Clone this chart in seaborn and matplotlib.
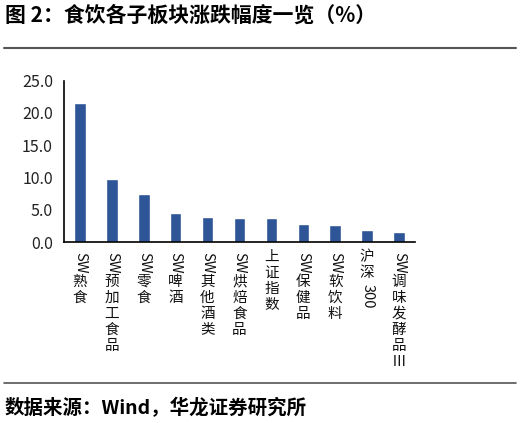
import matplotlib
matplotlib.use("Agg")
import matplotlib.pyplot as plt
import seaborn as sns
import pandas as pd
from matplotlib.transforms import IdentityTransform
from matplotlib.lines import Line2D

# data
categories = ["SW熟食", "SW预加工食品", "SW零食", "SW啤酒", "SW其他酒类", "SW烘焙食品",
              "上证指数", "SW保健品", "SW软饮料", "沪深300", "SW调味发酵品Ⅲ"]
values = [21.6, 9.8, 7.5, 4.55, 3.8, 3.72, 3.72, 2.8, 2.62, 1.92, 1.5]
yticks = [0, 5, 10, 15, 20, 25]

title = "图 2：食饮各子板块涨跌幅度一览（%）"
source = "数据来源：Wind，华龙证券研究所"

sns.set_style("white")
plt.rcParams['font.family'] = ['Noto Sans CJK SC', 'DejaVu Sans']

W, H = 520, 423
fig = plt.figure(figsize=(W / 100, H / 100), dpi=100)
ax = fig.add_axes([64 / W, 1 - 242 / H, (415 - 64) / W, (242 - 80.7) / H])

df = pd.DataFrame({"cat": categories, "val": values})
sns.barplot(data=df, x="cat", y="val", color="#2E5597", saturation=1, width=0.36, ax=ax)

ax.set_ylim(0, 25)
ax.set_xlim(-0.5, len(categories) - 0.5)
ax.set_yticks(yticks)
ax.set_yticklabels([f"{v:.1f}" for v in yticks], fontsize=11.5, color="#222222")
ax.set_xlabel("")
ax.set_ylabel("")
ax.set_xticks(range(len(categories)))
ax.set_xticklabels([])
ax.tick_params(axis="x", which="major", length=0)
ax.set_xticks([i - 0.5 for i in range(len(categories) + 1)], minor=True)
ax.tick_params(axis="x", which="minor", length=4, width=1.2, direction="out", color="black")
ax.tick_params(axis="y", length=5, width=1.2, direction="out", color="black", pad=3)
for s in ["top", "right"]:
    ax.spines[s].set_visible(False)
for s in ["left", "bottom"]:
    ax.spines[s].set_color("black")
    ax.spines[s].set_linewidth(1.2)

# vertical (stacked) category labels
fig.canvas.draw()
renderer = fig.canvas.get_renderer()
ident = IdentityTransform()
fs = 10.5
for i, lab in enumerate(categories):
    xp = ax.transData.transform((i, 0))[0]
    y = H - 252  # display coords (origin bottom-left)
    runs = []
    buf = ""
    for ch in lab:
        if ch.isascii():
            buf += ch
        else:
            if buf:
                runs.append(buf)
                buf = ""
            runs.append(ch)
    if buf:
        runs.append(buf)
    for r in runs:
        if r.isascii():
            t = fig.text(xp, y, r, transform=ident, rotation=-90, ha="center", va="top",
                         fontsize=fs, color="#111111")
            ext = t.get_window_extent(renderer)
            y -= ext.height + 3
        else:
            t = fig.text(xp, y + 2, r, transform=ident, ha="center", va="top",
                         fontsize=fs, color="#111111")
            y -= 16

fig.text(5 / W, 1 - 15 / H, title, fontsize=15, fontweight="bold", ha="left", va="center",
         color="black")
fig.text(5 / W, 1 - 408 / H, source, fontsize=14, fontweight="bold", ha="left", va="center",
         color="black")
fig.add_artist(Line2D([4 / W, 516 / W], [1 - 48 / H] * 2, color="#555555", lw=1.5))
fig.add_artist(Line2D([4 / W, 516 / W], [1 - 383 / H] * 2, color="#555555", lw=1.2))

fig.savefig("out.png", dpi=100)
